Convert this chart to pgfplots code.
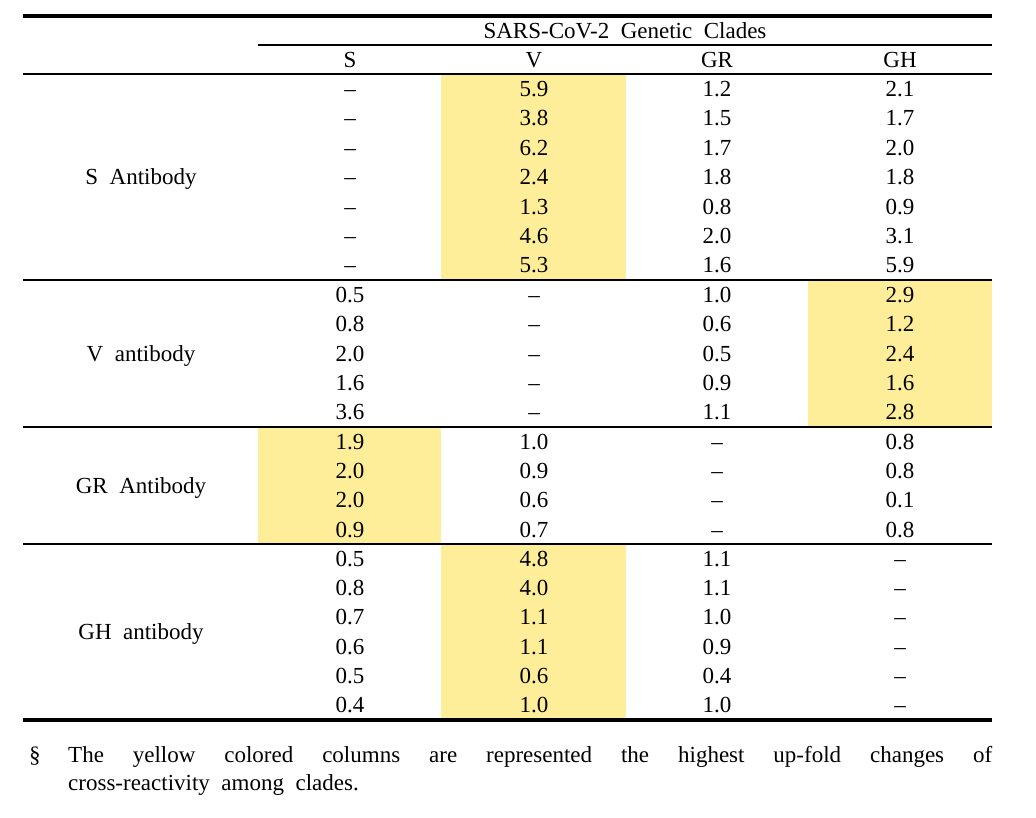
\documentclass[border=0pt]{standalone}
\usepackage{fontspec}
\setmainfont{Liberation Serif}[WordSpace=2]
\usepackage{pgfplots}
\usepackage{pgfplotstable}
\pgfplotsset{compat=1.18}
\definecolor{hl}{RGB}{255,238,153}
\newcommand\cf{\fontsize{23}{27}\selectfont}

\pgfplotstableread{
y     S    V    GR   GH
88.7  --   5.9  1.2  2.1
118.1 --   3.8  1.5  1.7
147.6 --   6.2  1.7  2.0
177.0 --   2.4  1.8  1.8
206.4 --   1.3  0.8  0.9
235.9 --   4.6  2.0  3.1
265.3 --   5.3  1.6  5.9
294.7 0.5  --   1.0  2.9
324.1 0.8  --   0.6  1.2
353.5 2.0  --   0.5  2.4
382.9 1.6  --   0.9  1.6
412.3 3.6  --   1.1  2.8
441.6 1.9  1.0  --   0.8
470.9 2.0  0.9  --   0.8
500.1 2.0  0.6  --   0.1
529.4 0.9  0.7  --   0.8
558.7 0.5  4.8  1.1  --
588.0 0.8  4.0  1.1  --
617.3 0.7  1.1  1.0  --
646.7 0.6  1.1  0.9  --
676.0 0.5  0.6  0.4  --
705.3 0.4  1.0  1.0  --
}\cells

\begin{document}
\begin{tikzpicture}
\begin{axis}[width=1036pt,height=817pt,scale only axis,
  xmin=0,xmax=1036,ymin=0,ymax=817,y dir=reverse,hide axis,clip=false,
  cell/.style={only marks,mark=none,nodes near coords,point meta=explicit symbolic,
    nodes near coords align={anchor=base},
    every node near coord/.append style={inner sep=0pt,font=\cf,text=black,yshift=-7.6pt}}]
\path (axis cs:0,0) rectangle (axis cs:1036,817);
% highlighted cells
\addplot[fill=hl,draw=none] coordinates {(441,74) (626,74) (626,280) (441,280)} -- cycle;
\addplot[fill=hl,draw=none] coordinates {(808,280) (992,280) (992,427) (808,427)} -- cycle;
\addplot[fill=hl,draw=none] coordinates {(258,427) (441,427) (441,544) (258,544)} -- cycle;
\addplot[fill=hl,draw=none] coordinates {(441,544) (626,544) (626,720) (441,720)} -- cycle;
% rules
\draw[line width=4pt] (axis cs:23,16) -- (axis cs:992,16);
\draw[line width=1.3pt] (axis cs:258,45) -- (axis cs:992,45);
\draw[line width=1.3pt] (axis cs:23,74) -- (axis cs:992,74);
\draw[line width=1.3pt] (axis cs:23,280) -- (axis cs:992,280);
\draw[line width=1.3pt] (axis cs:23,427) -- (axis cs:992,427);
\draw[line width=1.3pt] (axis cs:23,544) -- (axis cs:992,544);
\draw[line width=4pt] (axis cs:23,720) -- (axis cs:992,720);
% cell values
\addplot[cell] table[x expr=350,y=y,meta=S]{\cells};
\addplot[cell] table[x expr=534,y=y,meta=V]{\cells};
\addplot[cell] table[x expr=717,y=y,meta=GR]{\cells};
\addplot[cell] table[x expr=900,y=y,meta=GH]{\cells};
% headers
\node[font=\cf,inner sep=0pt,anchor=base] at (axis cs:625,38.1) {SARS-CoV-2 Genetic Clades};
\node[font=\cf,inner sep=0pt,anchor=base] at (axis cs:350,67.1) {S};
\node[font=\cf,inner sep=0pt,anchor=base] at (axis cs:534,67.1) {V};
\node[font=\cf,inner sep=0pt,anchor=base] at (axis cs:717,67.1) {GR};
\node[font=\cf,inner sep=0pt,anchor=base] at (axis cs:900,67.1) {GH};
% row group labels
\node[font=\cf,inner sep=0pt,anchor=base] at (axis cs:141,184.6) {S Antibody};
\node[font=\cf,inner sep=0pt,anchor=base] at (axis cs:141,361.1) {V antibody};
\node[font=\cf,inner sep=0pt,anchor=base] at (axis cs:141,493.1) {GR Antibody};
\node[font=\cf,inner sep=0pt,anchor=base] at (axis cs:141,639.6) {GH antibody};
% footnote
\node[font=\cf,inner sep=0pt,anchor=base west] at (axis cs:29,762) {\S};
\node[font=\cf,inner sep=0pt,anchor=base west] at (axis cs:68,762) {\makebox[924pt][s]{The yellow colored columns are represented the highest up-fold changes of}};
\node[font=\cf,inner sep=0pt,anchor=base west] at (axis cs:68,790) {cross-reactivity among clades.};
\end{axis}
\end{tikzpicture}
\end{document}
